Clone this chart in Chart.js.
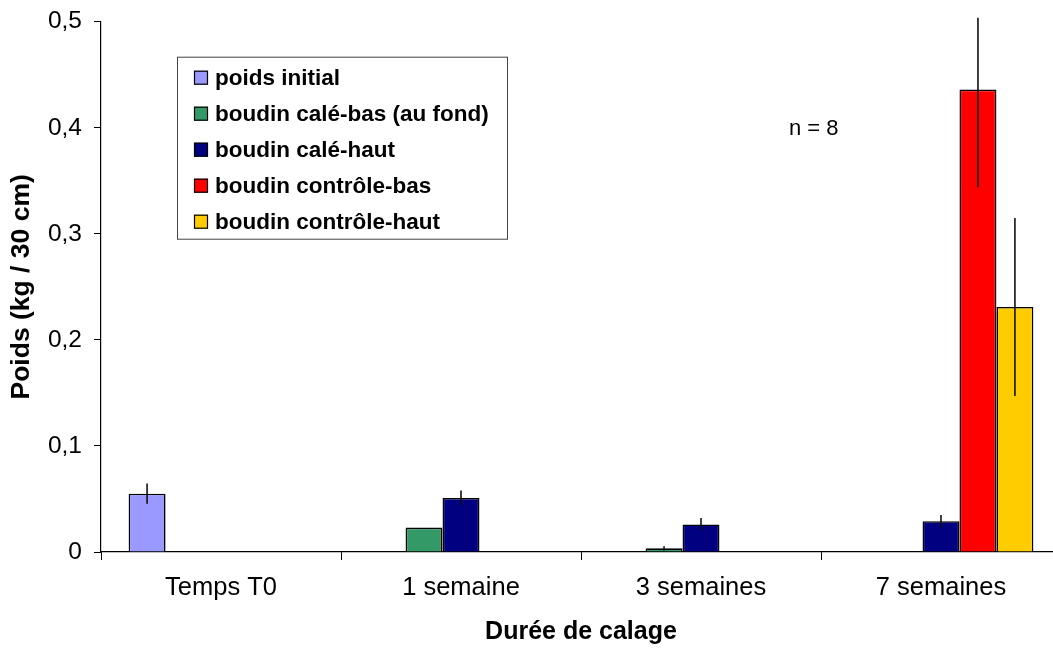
<!DOCTYPE html>
<html>
<head>
  <meta charset="utf-8">
  <script src="https://cdn.jsdelivr.net/npm/chart.js"></script>
  <style>
    html, body { margin: 0; padding: 0; background: #fff; overflow: hidden; }
    #wrap { position: relative; width: 1061px; height: 653px; margin-top: -5px; }
  </style>
</head>
<body>
  <div id="wrap">
    <canvas id="chart"></canvas>
  </div>

  <script>
    const FONT = '"Liberation Sans", Arial, sans-serif'

    // weights per 30 cm, with standard deviations drawn as error bars
    const categories = ['Temps T0', '1 semaine', '3 semaines', '7 semaines']
    const seriesNames = [
      'poids initial',
      'boudin calé-bas (au fond)',
      'boudin calé-haut',
      'boudin contrôle-bas',
      'boudin contrôle-haut'
    ]
    const poidsInitial = [0.055, null, null, null]
    const caleBas = [null, 0.023, 0.0035, null]
    const caleHaut = [null, 0.051, 0.026, 0.029]
    const controleBas = [null, null, null, 0.436]
    const controleHaut = [null, null, null, 0.231]

    const errPoidsInitial = [0.0095, null, null, null]
    const errCaleBas = [null, 0, 0.002, null]
    const errCaleHaut = [null, 0.007, 0.006, 0.006]
    const errControleBas = [null, null, null, 0.092]
    const errControleHaut = [null, null, null, 0.084]

    const yTicks = [0, 0.1, 0.2, 0.3, 0.4, 0.5]
    const colors = ['#9999FF', '#339966', '#000080', '#FF0000', '#FFCC00']

    const values = [poidsInitial, caleBas, caleHaut, controleBas, controleHaut]
    const errors = [errPoidsInitial, errCaleBas, errCaleHaut, errControleBas, errControleHaut]

    const datasets = values.map((v, i) => ({
      label: seriesNames[i],
      data: v,
      errors: errors[i],
      backgroundColor: colors[i],
      borderColor: '#000',
      borderWidth: 1.6,
      borderSkipped: 'bottom'
    }))

    // vertical error lines, no caps, clipped near the plot area
    const errorBars = {
      id: 'errorBars',
      afterDatasetsDraw(chart) {
        const ctx = chart.ctx
        const y = chart.scales.y
        const area = chart.chartArea
        ctx.save()
        ctx.beginPath()
        ctx.rect(area.left, area.top - 4, area.right - area.left, area.bottom - area.top + 4)
        ctx.clip()
        ctx.strokeStyle = '#111'
        ctx.lineWidth = 1.6
        chart.data.datasets.forEach((ds, di) => {
          const meta = chart.getDatasetMeta(di)
          ds.data.forEach((v, i) => {
            const e = ds.errors[i]
            if (v == null || !e) return
            const x = meta.data[i].x
            ctx.beginPath()
            ctx.moveTo(x, y.getPixelForValue(v + e))
            ctx.lineTo(x, y.getPixelForValue(Math.max(0, v - e)))
            ctx.stroke()
          })
        })
        ctx.restore()
      }
    }

    // boxed legend inside the plot and the sample size note
    const boxLegend = {
      id: 'boxLegend',
      afterDraw(chart) {
        const ctx = chart.ctx
        const area = chart.chartArea
        const left = area.left + 76
        const top = area.top + 35
        ctx.save()
        ctx.fillStyle = '#fff'
        ctx.fillRect(left, top, 330, 182)
        ctx.strokeStyle = '#444'
        ctx.lineWidth = 1
        ctx.strokeRect(left + 0.5, top + 0.5, 330, 182)
        ctx.font = 'bold 22.5px ' + FONT
        ctx.textBaseline = 'middle'
        ctx.textAlign = 'left'
        chart.data.datasets.forEach((ds, i) => {
          const cy = top + 21 + i * 36
          ctx.fillStyle = ds.backgroundColor
          ctx.fillRect(left + 17, cy - 7, 14, 14)
          ctx.strokeStyle = '#000'
          ctx.lineWidth = 1.2
          ctx.strokeRect(left + 17.5, cy - 6.5, 13, 13)
          ctx.fillStyle = '#000'
          ctx.fillText(ds.label, left + 38, cy + 1)
        })
        ctx.font = '22px ' + FONT
        ctx.fillText('n = 8', 789, area.top + 107)
        ctx.restore()
      }
    }

    new Chart(document.getElementById('chart'), {
      type: 'bar',
      data: { labels: categories, datasets: datasets },
      plugins: [errorBars, boxLegend],
      options: {
        responsive: true,
        maintainAspectRatio: false,
        animation: false,
        layout: { padding: { top: 17, right: 0, bottom: 0, left: 0 } },
        datasets: {
          bar: { categoryPercentage: 0.77, barPercentage: 1 }
        },
        plugins: {
          legend: { display: false },
          tooltip: { enabled: false }
        },
        scales: {
          x: {
            grid: {
              display: true,
              offset: true,
              drawOnChartArea: false,
              drawTicks: true,
              tickLength: 8,
              color: '#000'
            },
            border: { color: '#000', width: 1.2 },
            ticks: {
              color: '#000',
              font: { family: FONT, size: 25.5 },
              padding: 13,
              maxRotation: 0
            },
            title: {
              display: true,
              text: 'Durée de calage',
              color: '#000',
              font: { family: FONT, size: 25, weight: 'bold' },
              padding: { top: 0, bottom: 1 }
            },
            afterFit(scale) { scale.height = 96 }
          },
          y: {
            min: 0,
            max: 0.5,
            afterBuildTicks(scale) { scale.ticks = yTicks.map(v => ({ value: v })) },
            grid: {
              display: true,
              drawOnChartArea: false,
              drawTicks: true,
              tickLength: 7,
              color: '#000'
            },
            border: { color: '#000', width: 1.2 },
            ticks: {
              color: '#000',
              font: { family: FONT, size: 24.5 },
              padding: 12,
              callback: v => v === 0 ? '0' : v.toFixed(1).replace('.', ',')
            },
            title: {
              display: true,
              text: 'Poids (kg / 30 cm)',
              color: '#000',
              font: { family: FONT, size: 26.5, weight: 'bold' },
              padding: { top: 6, bottom: 0 }
            },
            afterFit(scale) { scale.width = 101 }
          }
        }
      }
    })
  </script>
</body>
</html>
